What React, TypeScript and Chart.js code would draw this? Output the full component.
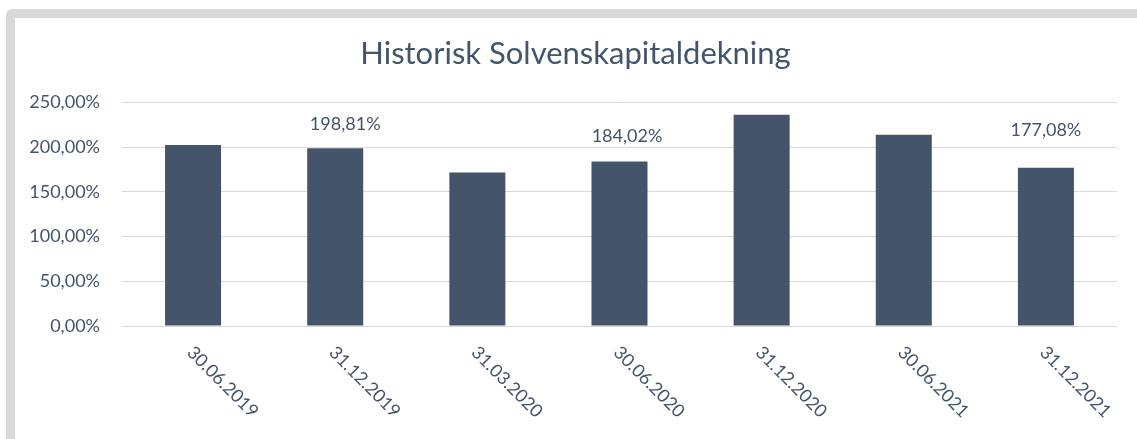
import React, { useEffect, useRef } from "react";
import { Chart, registerables } from "chart.js";

Chart.register(...registerables);

const categories = [
  "30.06.2019",
  "31.12.2019",
  "31.03.2020",
  "30.06.2020",
  "31.12.2020",
  "30.06.2021",
  "31.12.2021",
];
const solvencyValues = [202.6, 198.81, 171.6, 184.02, 236.2, 213.8, 177.08];
const labelledIndexes = [1, 3, 6];
const yTicks = [0, 50, 100, 150, 200, 250];
const chartTitle = "Historisk Solvenskapitaldekning";

const TEXT = "#44546A";
const FONT = "Lato, 'Open Sans', sans-serif";
// style: label nudges (pixels) for the manually placed data labels
const labelNudgeX = [10, 7.5, 0];
const labelNudgeY = [24.5, 25.7, 38];

const fmt = (v: number) => v.toFixed(2).replace(".", ",") + "%";

const overlayPlugin = {
  id: "overlay",
  afterDraw(chart: any) {
    const ctx = chart.ctx;
    const x = chart.scales.x;
    const y = chart.scales.y;
    ctx.save();
    ctx.fillStyle = TEXT;
    // title
    ctx.font = `31px ${FONT}`;
    ctx.textAlign = "center";
    ctx.textBaseline = "middle";
    ctx.fillText(chartTitle, (chart.width + 14) / 2, 54);
    // rotated x labels
    ctx.font = `18px ${FONT}`;
    ctx.textAlign = "left";
    ctx.textBaseline = "middle";
    categories.forEach((c, i) => {
      const px = x.getPixelForValue(i);
      ctx.save();
      ctx.translate(px - 3, y.bottom + 23.5);
      ctx.rotate(Math.PI / 4);
      ctx.fillText(c, 0, 0);
      ctx.restore();
    });
    // data labels
    ctx.textAlign = "center";
    labelledIndexes.forEach((idx, k) => {
      const v = solvencyValues[idx];
      const px = x.getPixelForValue(idx) + labelNudgeX[k];
      const py = y.getPixelForValue(v) - labelNudgeY[k];
      ctx.fillText(fmt(v), px, py);
    });
    ctx.restore();
  },
};

export default function App() {
  const ref = useRef<HTMLCanvasElement>(null);
  useEffect(() => {
    if (!ref.current) return;
    const chart = new Chart(ref.current, {
      type: "bar",
      data: {
        labels: categories,
        datasets: [
          {
            data: solvencyValues,
            backgroundColor: "#44546A",
            borderWidth: 0,
            categoryPercentage: 1,
            barPercentage: 0.394,
          },
        ],
      },
      options: {
        animation: false,
        responsive: false,
        maintainAspectRatio: false,
        layout: { padding: { left: 0, right: 20, top: 102.5, bottom: 0 } },
        plugins: {
          legend: { display: false },
          tooltip: { enabled: false },
          title: { display: false },
        },
        scales: {
          x: {
            grid: { display: false, drawTicks: false },
            border: { display: false },
            ticks: { display: false },
            afterFit: (s: any) => {
              s.height = 113;
            },
          },
          y: {
            min: 0,
            max: 250,
            afterBuildTicks: (s: any) => {
              s.ticks = yTicks.map((v) => ({ value: v }));
            },
            grid: { color: "#D9D9D9", lineWidth: 1, drawTicks: false },
            border: { display: false },
            ticks: {
              color: TEXT,
              padding: 22,
              font: { family: FONT, size: 18 },
              callback: (v: any) => fmt(Number(v)),
            },
            afterFit: (s: any) => {
              s.width = 122;
            },
          },
        },
      },
      plugins: [overlayPlugin],
    });
    return () => chart.destroy();
  }, []);

  return (
    <div
      style={{
        position: "fixed",
        left: 0,
        top: 0,
        width: 1137,
        height: 439,
        overflow: "hidden",
        background: "#fff",
      }}
    >
      <div
        style={{
          position: "absolute",
          left: 6,
          top: 9,
          width: 1160,
          height: 460,
          border: "9px solid #D9D9D9",
          borderRadius: 6,
          background: "#fff",
        }}
      />
      <canvas
        ref={ref}
        width={1137}
        height={439}
        style={{ position: "absolute", left: 0, top: 0, width: 1137, height: 439 }}
      />
    </div>
  );
}
